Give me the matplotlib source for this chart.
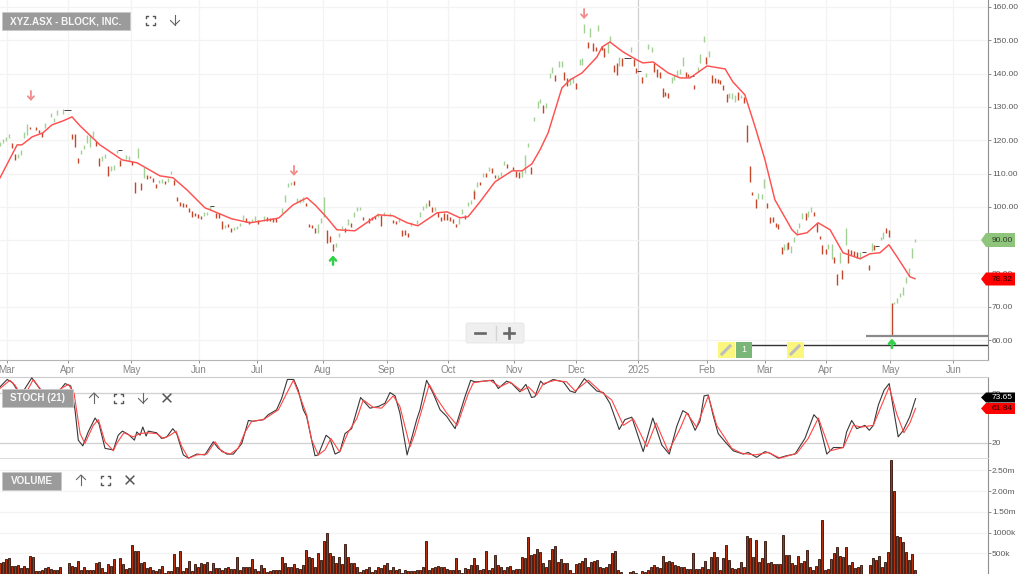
import numpy as np
import matplotlib
matplotlib.use("Agg")
import matplotlib.pyplot as plt
from matplotlib.patches import Rectangle, Polygon, FancyBboxPatch

plt.rcParams['font.family'] = ['Liberation Sans', 'DejaVu Sans']

# ---------- data ----------
title = "XYZ.ASX - BLOCK, INC."
month_pos = [2.2,22.6,43.7,66.2,85.6,107.6,128.9,149.4,171.4,192,212.8,235.6,254.9,275.2,296.7,317.8]
month_lab = ["Mar","Apr","May","Jun","Jul","Aug","Sep","Oct","Nov","Dec","2025","Feb","Mar","Apr","May","Jun"]
price_ticks = [60,70,80,90,100,110,120,130,140,150,160]

# (day, high, low)
up_bars = [(0,119.5,118.3),(1,120.4,119.2),(2,121,119.8),(3,121.9,120.7),(6,115.9,114.7),(7,117.1,115.6),
 (8,122.5,120.7),(9,124.9,121.6),(14,122.5,121.9),(15,125.2,123.7),(17,128.2,127),(18,126.7,125.5),(19,129.1,127.6),
 (21,129.4,127.9),(27,117.1,115.9),(28,118.6,117.4),(29,121.6,119.2),(30,121.6,118),(31,122.8,121),(34,115.3,113.8),
 (35,115.9,114.7),(37,112.3,110.8),(38,112.6,111.1),(39,117.1,116.2),(42,115.6,114.4),(43,115.3,113.8),(46,117.7,114.7),
 (48,112,108.7),(53,108.1,107.2),(54,108.4,107.2),(56,108.7,107.5),(57,110.8,109.9),(68,98.5,97.3),(69,98.5,97.6),
 (70,100.3,99.1),(75,94.6,93.7),(78,94,93.1),(79,94.3,93.4),(80,95.2,94.3),(81,97.6,96.1),(84,96.4,95.5),(85,97.3,95.8),
 (88,97.3,95.8),(94,99.7,98.2),(95,103.6,101.5),(96,107.2,106),(97,107.5,106.6),(99,102.7,101.2),(100,102.4,101.2),
 (101,103,101.5),(106,94.9,92.2),(107,96.7,95.2),(108,103,97),(112,89.2,88),(113,92.2,91),(114,94.3,93.4),(116,96.4,94.6),
 (118,98.5,97),(119,100,98.8),(120,100,99.1),(126,98.2,97),(128,98.5,97.3),(130,98.2,97.3),(133,96.7,95.5),(137,95.5,94.3),
 (139,96.1,94.9),(140,98.5,97),(141,100.3,99.1),(142,101.2,99.7),(145,100,98.8),(153,96.7,94.9),(154,99.4,97.9),
 (156,101.5,100.3),(157,102.1,100.9),(158,105.4,103.6),(159,107.5,106),(161,110.2,109),(163,112,110.8),(166,109.6,108.1),
 (167,110.5,109.3),(168,113.8,112.6),(174,111.1,109),(175,115.6,110.2),(176,119.2,118),(178,127,125.8),(179.3,131.8,129.7),
 (180,132.4,131.2),(182,131.2,129.7),(183.3,140.2,138.7),(184,142,140.2),(186.3,143.8,142),(187.3,143.8,142),(190,138.7,136.6),
 (191,139,137.2),(193.3,144.4,142.6),(194,144.7,142.6),(194.7,154.9,152.2),(196.8,153.7,151),(199.4,154.6,152.8),
 (202.6,149.2,146.2),(203.4,151.3,149.5),(206.4,145,142.3),(210.2,148,146.5),(215.2,140.2,139),(216.1,148.9,147.4),
 (217.2,148,146.5),(223.9,139,137.2),(224.8,139.6,138.1),(225.8,141.1,139.3),(226.7,141.4,139.9),(227.8,145,142.3),
 (232.6,142,140.5),(233.4,145.9,143.2),(234.6,151.3,149.5),(236.4,146.8,145),(243.1,134.2,132.7),(244.1,134.2,132.4),
 (245,133.6,131.5),(247.1,133.6,132.7),(252.8,104.2,102.4),(253.9,103.9,102.4),(254.8,108.4,105.7),(261.4,88.9,87.1),
 (262.4,89.2,87.1),(263.6,88.3,86.2),(264.7,91,89.5),(265.6,93.4,91.6),(266.4,95.2,93.7),(267.4,98.2,96.4),(269.3,98.8,97),
 (270.2,100,98.5),(276,88.9,87.4),(277.2,88.9,84.4),(280,86.5,83.2),(282,93.7,88.6),(286.7,86.5,84.4),(290.8,89.2,86.8),
 (293.6,91,90.1),(294.4,92.5,90.4),(298,71.5,70.9),(299,72.7,71.2),(300,74.2,73),(301,76,73.6),(302,79,77.2),
 (303,81.7,79.3),(304,87.7,84.7),(305,90.4,89.5)]

down_bars = [(4,119.2,117.7),(5,115.9,114.1),(10,124,123.4),(12,124,123.1),(13,123.1,122.2),(14,122.2,121),(24,121.9,120.4),
 (25,121.9,118),(26,114.7,113.2),(32,119.8,118.3),(33,114.7,112.3),(36,112.3,109.3),(40,114.1,112.3),(44,113.8,112.6),
 (45,107.5,104.2),(47,107.2,105.1),(49,109.6,108.4),(50,109.3,108.7),(51,108.7,107.5),(52,106.9,105.7),(55,107.8,106.9),
 (58,108.1,106.6),(59,103,101.8),(60,101.5,100.3),(61,101.2,100),(62,100.9,100),(63,99.7,98.5),(64,98.8,97),(65,98.2,97.3),
 (66,97.9,96.7),(67,97.3,96.4),(72,98.2,96.7),(73,98.2,96.7),(74,95.8,93.4),(76,94.9,94),(77,93.7,92.5),(82,96.7,95.5),
 (83,95.8,94.9),(86,96.1,94.9),(89,97,95.8),(90,96.7,95.8),(91,96.7,95.5),(92,96.7,95.5),(98,107.8,106.6),(102,101.2,100.3),
 (103,94.9,94),(104,94.6,93.7),(105,93.7,92.2),(109,93.1,89.2),(110,91.3,89.5),(111,88.9,86.8),(115,93.7,92.5),(117,95.2,94),
 (121,97,96.1),(123,96.7,95.2),(124,97,96.1),(125,97.3,96.4),(127,97.6,94.3),(131,96.1,95.2),(132,95.8,94.9),(134,93.1,91.3),
 (135,93.1,91.6),(136,92.2,91),(143,102.1,100.3),(144,100,98.5),(146,98.5,97),(147,97,95.8),(148,98.2,96.1),(149,97.9,96.1),
 (150,97,95.8),(151,96.4,95.2),(152,94.9,94),(155,97.6,96.4),(158,104.8,102.4),(160,107.5,106.6),(162,110.2,109),
 (164,111.7,110.2),(165,109.6,108.7),(169,112.9,111.7),(171,112,111.1),(172,110.8,109),(173,110.5,108.7),(177,112,109.9),
 (181,130.6,128.2),(185,139.6,137.8),(188,140.5,138.1),(189,138.7,136.3),(192,137.2,135.4),(195.9,149.5,147.7),
 (197.6,149.2,146.8),(198.7,148,146.8),(200.8,148.3,147.1),(201.4,147.7,145),(204.7,142.6,140.5),(205.6,143.2,139.6),
 (207.3,144.7,142.3),(211.3,144.4,142.3),(212,141.7,140.2),(214.1,139,137.2),(218,143.2,140.5),(218.9,141.4,139),
 (220,140.5,138.7),(220.9,135.7,133),(221.8,134.5,133.3),(222.8,134.2,132.7),(228.7,140.5,139),(229.4,139.9,139),
 (231.4,136.6,135.4),(235.4,145,142.9),(237.3,139.6,137.2),(238.3,138.7,137.2),(239.2,138.4,137.2),(240,138.1,136.9),
 (241.1,136.6,135.1),(242.2,133.9,131.5),(246.1,134.5,132.1),(248.1,133,131.2),(248.9,124.6,119.5),(250,112.3,107.5),
 (250.8,104.5,103.6),(252,102.4,99.7),(255.8,101.2,99.7),(256.7,97,95.2),(257.8,97,95.5),(258.7,95.2,94),(259.4,94.9,93.4),
 (260.6,88,85.9),(262.8,89.5,87.4),(268.6,98,96),(271.3,98.5,97.3),(272.2,95.2,92.5),(273.3,91.3,90.4),(274.1,88.6,85.9),
 (275.2,87.4,85.9),(278.1,85,83.2),(279.1,79.9,76.6),(280.8,81.1,78.4),(282.8,87.4,83.2),(283.8,87.1,85.6),(284.7,86.8,85.3),
 (285.6,86.5,84.7),(289.8,82.6,81.1),(291.4,88.6,87.1),(295.3,93.7,92.2),(296.4,93.1,91),(297.4,71.2,61.3)]

flat_bars = [(22,129.1),(23,129.1),(40,117),(70.7,100.3),(208.7,144.7),(209.7,144.7),(213.1,140.8),(230.6,139.3),(288,86.5),(292.4,88.3)]

ma_line = [(0,108.7),(5.7,118.6),(7.3,118.6),(10.7,121),(14.3,122.2),(17.3,124.6),(21,125.8),(24,127),(26.7,124.3),(33.3,118.6),
 (40.7,114.1),(45.7,113.2),(53.3,109.3),(57.7,108.7),(62.3,105.1),(68.3,99.7),(70,99.1),(77.2,96.4),(83.3,95.2),(91.7,96.4),
 (93,96.7),(97.7,100.6),(102.3,102.7),(105,100.6),(109,96.7),(112.3,93.1),(118.3,92.8),(121.7,94.9),(126,97.6),(131,97.3),
 (135.7,95.2),(139.3,94.3),(145.7,98.2),(149,98.5),(153.3,96.7),(156,97),(160,101.5),(165,107.5),(170.7,110.8),(174,110.8),
 (177.3,112.9),(180,117.1),(182.7,122.2),(187.3,135.7),(190,138.1),(194,140.2),(199,145),(200.7,148),(203.3,149.5),(207.7,146.5),
 (212.3,144.1),(214.3,143.2),(217.7,143.5),(222.7,140.2),(226.7,138.7),(230,138.7),(235.7,142.3),(241.7,141.4),(244.3,137.5),
 (248.3,133.6),(251.7,124),(255,114.1),(258.3,102.1),(264,93.1),(265.7,91.6),(269,92.2),(272.7,95.2),(276.7,93.1),(281,86.2),
 (286.7,84.4),(290,85.9),(293.3,86.2),(296.3,88.6),(299,85),(303.3,79),(305,78.4)]

stoch_k = [(0,88),(2.4,97),(4.2,93),(6.1,82),(8,84),(10.6,99),(12.8,88),(15,76),(17.8,76),(20,84),(21.7,92),(23.6,89),(25,60),(26.1,23),
 (27.6,16),(29.4,33),(31.7,50),(33,43),(35,13),(37.8,11),(39.4,29),(40.8,34),(42.8,30),(44.8,23),(45.6,33),(46.7,29),(47.6,39),
 (48.7,28),(49.4,34),(52.2,32),(53.9,25),(55.6,27),(57.6,37),(58.9,31),(61.1,5),(62.8,1),(65.6,6),(68.3,5),(71.1,21),(72.8,13),
 (75.6,6),(77.8,6),(80.6,19),(82.8,47),(84.4,46),(87.8,48),(89.4,54),(92.2,60),(93.9,74),(95.8,97),(97.9,97),(99.4,84),(101.1,60),
 (102.2,52),(105,4),(106.1,5),(108.7,29),(110,25),(111.7,6),(113.3,9),
 (115,31),(117.2,37),(120.2,75),(123.3,62),(126.1,64),(128.3,68),(130,81),(131.7,77),(133.3,56),(135.7,5),(138.9,48),(140,60),
 (142.2,96),(144.4,80),(146.7,60),(148.9,52),(151.7,37),(155,76),(156.9,96),(158.3,94),(164.4,96),(166.1,86),(168.9,95),(170.6,92),
 (173.3,82),(175.3,91),(177.2,75),(178.3,76),(180.2,95),(181.3,91),(184.4,97),(187.8,94),(190,83),(191.7,81),(194.8,98),(198.9,83),
 (201.1,81),(203.3,68),(206.4,36),(208.3,48),(210.6,51),(214.4,9),(217.6,50),(220.6,17),(223.1,6),(225.6,40),(227.6,59),(229.4,55),
 (231.7,35),(233.3,46),(234.7,77),(236.1,78),(237.8,52),(239.4,31),(241.7,21),(244.4,10),(247.8,6),(249.4,8),(252.2,2),(255,9),
 (256.7,7),(259.4,1),(262.2,4),(265,6),(268.3,25),(271.3,54),(272.8,48),(275.6,6),(277.8,14),(281.1,14),(282.2,33),(283.9,47),
 (285.6,37),(288.3,41),(289.8,35),(291.1,41),(292.8,66),(294.7,84),(296.4,92),(299.4,27),(301.1,35),(303.3,52),(305.2,73.65)]

stoch_d = [(0,86),(3.3,96),(5,90),(6.7,80),(8.9,82),(11.1,97),(13.3,86),(15.6,76),(22.8,91),(24.7,80),(26.7,31),(28.3,19),(31.1,41),
 (32.8,48),(35,21),(37.8,10),(38.9,19),(41.3,32),(44.4,27),(46.7,31),(48.9,32),(52.2,31),(54.4,25),(56.7,29),(58.7,34),(60.6,15),
 (62.8,1),(65.6,5),(68.9,6),(71.7,21),(73.9,9),(76.7,6),(79.4,13),(81.7,33),(83.9,46),(87.8,48),(92.8,60),(95,76),(97.8,96),(100,76),
 (102.2,54),(103.9,23),(106.1,5),(108.3,11),(110.3,25),(112.8,11),(113.3,9),(116.1,33),(118.9,49),(121.1,72),(124.4,63),(127.2,62),
 (131.1,77),(133.3,64),(136.7,15),(138.3,31),(143.1,91),(145.6,74),(148.9,56),(152.4,41),(156.1,80),(157.8,93),(163.3,96),(166.7,88),
 (170,94),(173.9,83),(176.1,88),(178.9,78),(181.1,92),(185,96),(188.9,94),(191.7,83),(196.1,96),(200,83),(203.9,72),(207.8,41),
 (211.1,49),(215.6,15),(218.7,44),(222.8,9),(226.7,37),(228.9,56),(232.2,39),(236.1,77),(238.9,41),(243.9,13),(247.2,7),(251.7,5),
 (256.1,8),(260,1),(265.6,7),(269.4,25),(272.8,50),(276.7,10),(281.1,14),(284.4,41),(287.2,39),(291.1,41),(296.4,88),(298.9,55),
 (301.3,32),(303.3,44),(305.2,61.84)]

vol_part1 = [256,296,360,376,192,200,216,136,200,136,432,400,80,80,96,136,176,112,96,96,160,0,0,256,192,176,304,96,176,96,96,96,256,280,136,
 56,240,200,352,0,376,240,112,136,696,560,560,256,296,136,160,96,80,112,200,16,80,80,480,176,560,80,136,304,80,240,176,256,240,288,80,
 256,136,136,96,136,160,112,112,416,96,160,176,176,352,112,80,216,136,56,80,96,96,96,400,272,176,176,240,136,112,224,576,416,376,176,
 496,336,792,992,496,432,256,416]
vol_part2 = [240,720,416,256,256,160,56,96,112,160,56,96,160,136,216,256,96,176,96,112,32,96,72,72,72,96,96,176,800,96,136,176,192,176,160,
 112,96,96,376,96,32,136,112,216,376,216,96,112,560,96,136,456,216,176,96,160,192,96,112,112,416,376,880,456,480,600,520,256,176,336,592,
 680,296,360,256,272,96,32,240,272,320,376,176,296,320,336,176,144,160,240,496,560,96,48,0,0,56,72,32,0,72,56,96,176,216,176,136,440,296,
 320,296,216,200]
vol_part3 = [176,176,120,112,496,112,112,176,320,112,400,536,400,96,376,696,336,136,120,136,280,176,920,856,400,816,296,376,800,256,280,240,
 240,240,944,456,456,256,216,432,256,320,576,176,96,192,352,1296,96,112,352,496,656,432,416,656,216,280,136,176,208,0,0,216,392,336,440,
 176,280,536,2750,2000,912,880,760,536,336,480,96]
volume_k = vol_part1 + vol_part2 + vol_part3
vol_ticks = [500,1000,1500,2000,2500]
vol_labels = ["500k","1000k","1.50m","2.00m","2.50m"]
stoch_ticks = [20,80]
support_levels = [(288.5,61.1,'#8a8a8a',1.6),(248,58.4,'#333333',1.0)]
sell_marks = [(10.3,133.8),(98,111.3),(194.7,158.4)]
buy_marks = [(111,84),(297.3,59)]

# ---------- layout helpers ----------
W,H = 1024,574
fig = plt.figure(figsize=(W/100,H/100),dpi=100,facecolor='white')
def axes_px(x0,y0,x1,y1,**k):
    return fig.add_axes([x0/W,1-y1/H,(x1-x0)/W,(y1-y0)/H],**k)
ax_p = axes_px(0,0,988,360)
ax_s = axes_px(0,377,988,459)
ax_v = axes_px(0,459,988,574)
AXC='#909090'; TXT='#5a5a5a'; GRID='#f3f3f3'
FS=6.0
for ax in (ax_p,ax_s,ax_v):
    ax.set_xlim(0,988/3)
    ax.set_facecolor('white')
    for s in ('top','left'): ax.spines[s].set_visible(False)
    ax.spines['right'].set_color(AXC); ax.spines['bottom'].set_color(AXC)
    ax.yaxis.tick_right()
    ax.tick_params(axis='y',length=2,color=AXC,labelsize=FS,labelcolor=TXT,pad=0.9,width=0.7)
    ax.grid(True,axis='y',color=GRID,lw=0.9)
    ax.set_axisbelow(True)
    ax.tick_params(axis='x',length=0,labelbottom=False)

# ---------- price ----------
ax_p.set_ylim(54,162.1)
ax_p.set_yticks(price_ticks)
ax_p.set_yticklabels([f"{v:.2f}" for v in price_ticks])
ax_p.set_xticks(month_pos)
ax_p.grid(True,axis='x',color=GRID,lw=0.9)
ax_p.get_xgridlines()[10].set_color('#cfcfcf')
ax_p.spines['bottom'].set_color('#b5b5b5')
ax_p.tick_params(axis='x',length=2,color=AXC,labelbottom=True,labelsize=7.1,labelcolor='#858585',pad=1.5,width=0.7)
ax_p.set_xticklabels(month_lab)

ux,uh,ul = zip(*up_bars)
dx,dh,dl = zip(*down_bars)
ax_p.vlines(ux,ul,uh,color='#a3d097',lw=1.0,zorder=3)
ax_p.vlines(dx,dl,dh,color='#c5472b',lw=1.0,zorder=3)
fx,fy = zip(*flat_bars)
ax_p.plot(fx,fy,ls='',marker='_',ms=2.5,mew=0.7,color='#444444',zorder=3)
mx,my = zip(*ma_line)
ax_p.plot(mx,my,color='#ff5050',lw=1.05,zorder=4,solid_joinstyle='round')
for x0,y,c,lw in support_levels:
    ax_p.plot([x0,988/3],[y,y],color=c,lw=lw,zorder=4,solid_capstyle='butt')
for x,y in sell_marks:
    ax_p.annotate('',xy=(x,y-2.0),xytext=(x,y+1.0),annotation_clip=False,zorder=5,
        arrowprops=dict(arrowstyle='->,head_width=0.22,head_length=0.24',color='#f28b8b',lw=1.3,shrinkA=0,shrinkB=0))
for x,y in buy_marks:
    ax_p.annotate('',xy=(x,y+1.4),xytext=(x,y-1.4),annotation_clip=False,zorder=5,
        arrowprops=dict(arrowstyle='->,head_width=0.22,head_length=0.24',color='#33d14a',lw=1.8,shrinkA=0,shrinkB=0))

# ---------- stochastic ----------
ax_s.set_ylim(0,100)
ax_s.set_yticks(stoch_ticks)
ax_s.set_yticklabels([str(v) for v in stoch_ticks])
ax_s.spines['top'].set_visible(True); ax_s.spines['top'].set_color('#cccccc')
ax_s.spines['bottom'].set_color('#dddddd'); ax_s.spines['bottom'].set_linewidth(1.4)
ax_s.grid(True,axis='y',color='#d2d2d2',lw=1.0)
kx,kv = zip(*stoch_k)
sx,sv = zip(*stoch_d)
ax_s.plot(kx,kv,color='#383838',lw=0.8,zorder=3,clip_on=False)
ax_s.plot(sx,sv,color='#ff4545',lw=0.8,zorder=4,clip_on=False)

# ---------- volume ----------
ax_v.set_ylim(0,2772)
ax_v.set_yticks(vol_ticks)
ax_v.set_yticklabels(vol_labels)
ax_v.spines['bottom'].set_visible(False)
xv = np.arange(len(volume_k))
ax_v.bar(xv,volume_k,width=0.98,color='#b5300a',edgecolor='#2a1008',linewidth=0.6,zorder=3)

# ---------- chrome overlay (pixel coordinates) ----------
ov = fig.add_axes([0,0,1,1],zorder=10)
ov.set_xlim(0,W); ov.set_ylim(H,0); ov.axis('off'); ov.patch.set_alpha(0)
ICON='#666666'
def label(x0,y0,x1,y1,t):
    ov.add_patch(Rectangle((x0,y0),x1-x0,y1-y0,fc='#9b9b9b',ec='#c8c8c8',lw=0.6))
    ov.text((x0+x1)/2,(y0+y1)/2+0.3,t,color='white',fontsize=7.15,ha='center',va='center',fontweight='bold',alpha=.92)
def fs_icon(cx,cy):
    r=4.5; d=2
    for sx_,sy_ in ((-1,-1),(1,-1),(-1,1),(1,1)):
        ov.plot([cx+sx_*r,cx+sx_*r,cx+sx_*(r-d)],[cy+sy_*(r-d),cy+sy_*r,cy+sy_*r],color='#555555',lw=1.0)
def arrow_icon(cx,cy,up):
    s=-1 if up else 1
    ov.plot([cx,cx],[cy-s*5,cy+s*5],color=ICON,lw=0.8)
    ov.plot([cx-4.5,cx,cx+4.5],[cy+s*0.5,cy+s*5,cy+s*0.5],color=ICON,lw=0.8)
def x_icon(cx,cy):
    r=3.8
    ov.plot([cx-r,cx+r],[cy-r,cy+r],color='#555555',lw=1.1)
    ov.plot([cx-r,cx+r],[cy+r,cy-r],color='#555555',lw=1.1)
label(2,12,130,30,title)
fs_icon(150,20); arrow_icon(175,20,False)
label(2,389,73,407,"STOCH (21)")
arrow_icon(94,398,True); fs_icon(118,398); arrow_icon(143,398,False); x_icon(167,398)
label(2,472,61,490,"VOLUME")
arrow_icon(81,480,True); fs_icon(105,480); x_icon(130,480)

# zoom buttons
ov.add_patch(FancyBboxPatch((466,323),58,20,boxstyle='round,pad=0,rounding_size=2',fc='#efefef',ec='#e4e4e4',lw=0.6))
ov.plot([496,496],[326,340],color='#d5d5d5',lw=1)
ov.plot([474.5,485],[332.5,332.5],color='#666666',lw=1.9)
ov.plot([504,514],[332.5,332.5],color='#666666',lw=1.9)
ov.plot([509,509],[327.5,337.5],color='#666666',lw=1.9)

# annotation tools
for x0 in (718,787):
    ov.add_patch(Rectangle((x0,342),16.5,16,fc='#fbf77e',ec='none'))
    ov.plot([x0+4,x0+12],[354,346],color='#bdbdbd',lw=2.2)
ov.add_patch(Rectangle((736,342),16,16,fc='#79b678',ec='none'))
ov.text(744,350,"1",color='white',fontsize=6.5,ha='center',va='center')

# value tags
def tag(y,h,txt,fc,tc,x1=1015):
    ov.add_patch(Polygon([(981,y),(986,y-h/2),(x1,y-h/2),(x1,y+h/2),(986,y+h/2)],fc=fc,ec='none'))
    ov.text(1002.5,y+0.2,txt,color=tc,fontsize=FS,ha='center',va='center')
tag(240,14,"90.00",'#8fc47d','#2c3a26')
tag(279,13,"78.32",'#ff0000','#200000')
tag(397.5,10,"73.65",'#000000','white')
tag(408.5,11,"61.84",'#ff0000','#200000')

fig.savefig('out.png',dpi=100,facecolor='white')
